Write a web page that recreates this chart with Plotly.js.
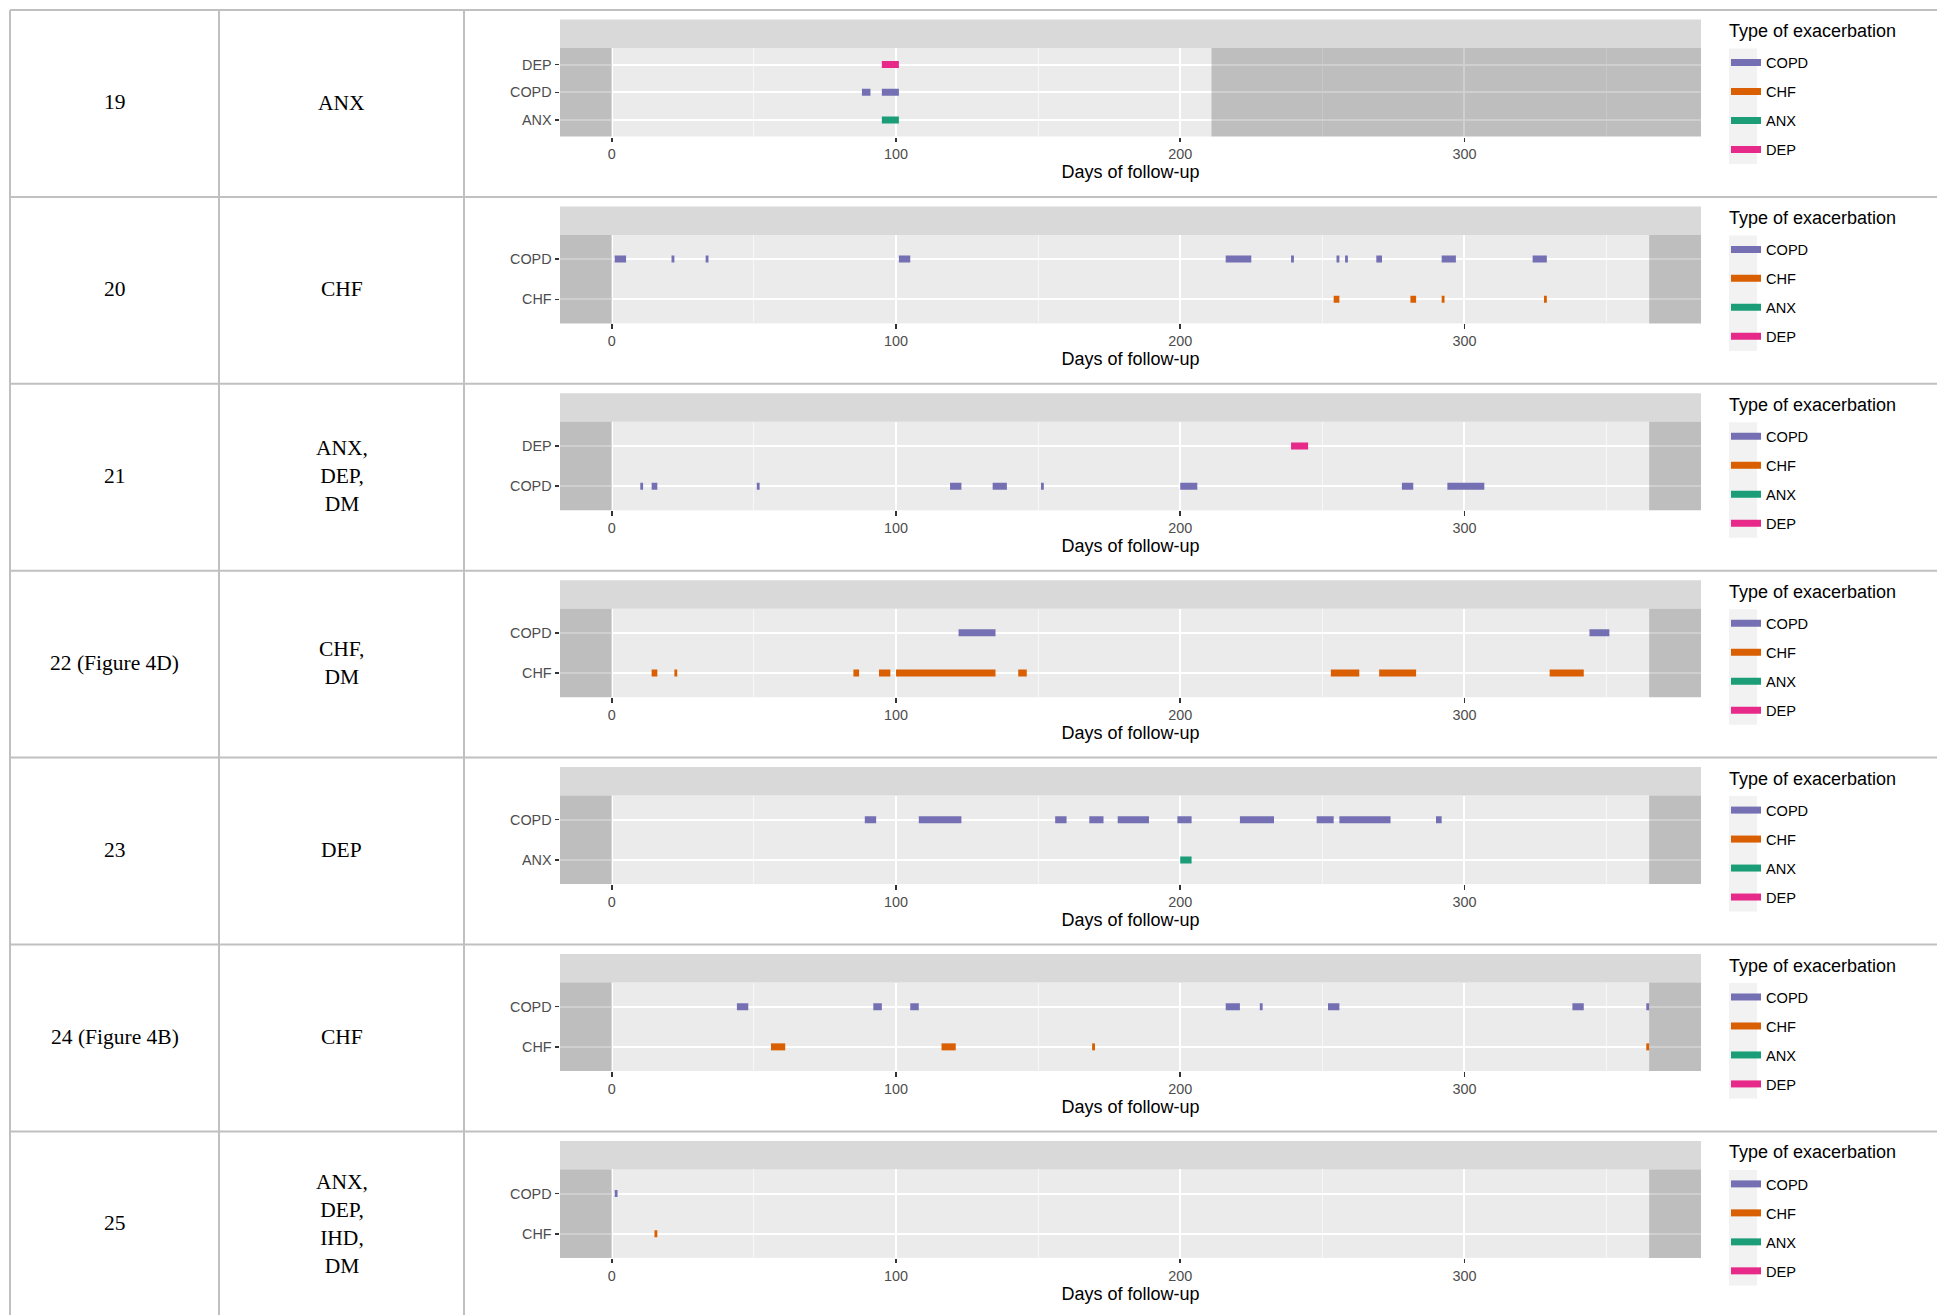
<!DOCTYPE html>
<html><head><meta charset="utf-8">
<script src="https://cdn.plot.ly/plotly-3.0.1.min.js"></script>
<style>html,body{margin:0;padding:0;background:#fff;} #chart{width:1937px;height:1315px;}</style>
</head><body><div id="chart"></div>
<script>
// ---------------- data ----------------
const patientIds = ['19', '20', '21', '22 (Figure 4D)', '23', '24 (Figure 4B)', '25'];
const comorbidities = ['ANX', 'CHF', 'ANX,<br>DEP,<br>DM', 'CHF,<br>DM', 'DEP', 'CHF', 'ANX,<br>DEP,<br>IHD,<br>DM'];
const followUpDays = [211, 365, 365, 365, 365, 365, 365];
const exacerbationTypes = ['COPD', 'CHF', 'ANX', 'DEP'];
// y categories, bottom to top
const yCategories = [['ANX', 'COPD', 'DEP'], ['CHF', 'COPD'], ['COPD', 'DEP'], ['CHF', 'COPD'], ['ANX', 'COPD'], ['CHF', 'COPD'], ['CHF', 'COPD']];
const xTickVals = [0, 100, 200, 300];
const xAxisTitle = 'Days of follow-up';
const legendTitle = 'Type of exacerbation';

// episodes: [start day, end day]
const p19_COPD = [[88, 91], [95, 101]];
const p19_ANX = [[95, 101]];
const p19_DEP = [[95, 101]];

const p20_COPD = [[1, 5], [21, 22], [33, 34], [101, 105], [216, 225], [239, 240], [255, 256], [258, 259], [269, 271], [292, 297], [324, 329]];
const p20_CHF = [[254, 256], [281, 283], [292, 293], [328, 329]];

const p21_COPD = [[10, 11], [14, 16], [51, 52], [119, 123], [134, 139], [151, 152], [200, 206], [278, 282], [294, 307]];
const p21_DEP = [[239, 245]];

const p22_COPD = [[122, 135], [344, 351]];
const p22_CHF = [[14, 16], [22, 23], [85, 87], [94, 98], [100, 135], [143, 146], [253, 263], [270, 283], [330, 342]];

const p23_COPD = [[89, 93], [108, 123], [156, 160], [168, 173], [178, 189], [199, 204], [221, 233], [248, 254], [256, 274], [290, 292]];
const p23_ANX = [[200, 204]];

const p24_COPD = [[44, 48], [92, 95], [105, 108], [216, 221], [228, 229], [252, 256], [338, 342], [364, 365]];
const p24_CHF = [[56, 61], [116, 121], [169, 170], [364, 365]];

const p25_COPD = [[1, 2]];
const p25_CHF = [[15, 16]];

const episodes = [
  {COPD: p19_COPD, ANX: p19_ANX, DEP: p19_DEP},
  {COPD: p20_COPD, CHF: p20_CHF},
  {COPD: p21_COPD, DEP: p21_DEP},
  {COPD: p22_COPD, CHF: p22_CHF},
  {COPD: p23_COPD, ANX: p23_ANX},
  {COPD: p24_COPD, CHF: p24_CHF},
  {COPD: p25_COPD, CHF: p25_CHF}
];

// ---------------- layout helpers ----------------
const W = 1937, H = 1315;
const tableTop = 10, rowPitch = 186.9;
const colLines = [10, 219, 464];
const panelLeft = 560, panelRight = 1701;
const fx = px => px / W;
const fy = px => 1 - px / H;
const typeColors = {COPD: '#7570B3', CHF: '#D95F02', ANX: '#1B9E77', DEP: '#E7298A'};
const maxDay = 365;
const xRange = [-0.05 * maxDay, 1.05 * maxDay];
const sans = 'Liberation Sans, Arial, sans-serif';
const serif = 'Liberation Serif, Times New Roman, serif';
const tableLine = '#C0C0C0';

const traces = [];
const layout = {
  width: W, height: H,
  margin: {l: 0, r: 0, t: 0, b: 0},
  paper_bgcolor: '#FFFFFF',
  plot_bgcolor: '#EBEBEB',
  showlegend: true,
  hovermode: false,
  font: {family: sans, color: '#000'},
  shapes: [],
  annotations: []
};

patientIds.forEach((pid, i) => {
  const n = i + 1;
  const sfx = n === 1 ? '' : String(n);
  const rowTop = tableTop + rowPitch * i;
  const cats = yCategories[i];
  const legName = 'legend' + sfx;

  layout['xaxis' + sfx] = {
    domain: [fx(panelLeft), fx(panelRight)],
    anchor: 'y' + sfx,
    range: xRange,
    tickmode: 'array', tickvals: xTickVals,
    ticks: 'outside', ticklen: 4.5, tickwidth: 1.5, tickcolor: '#333333',
    tickfont: {family: sans, size: 14.4, color: '#4D4D4D'},
    showgrid: true, gridcolor: '#FFFFFF', gridwidth: 2,
    minor: {dtick: 50, tick0: 0, showgrid: true, gridcolor: '#F7F7F7', gridwidth: 1, ticks: ''},
    zeroline: false, showline: false, fixedrange: true,
    title: {text: xAxisTitle, font: {family: sans, size: 18, color: '#000'}, standoff: 4}
  };
  layout['yaxis' + sfx] = {
    domain: [fy(rowTop + 126.5), fy(rowTop + 38)],
    anchor: 'x' + sfx,
    type: 'category', categoryorder: 'array', categoryarray: cats,
    range: [-0.6, cats.length - 0.4],
    ticks: 'outside', ticklen: 4.5, tickwidth: 1.5, tickcolor: '#333333',
    tickfont: {family: sans, size: 14.4, color: '#4D4D4D'},
    showgrid: true, gridcolor: '#FFFFFF', gridwidth: 2,
    zeroline: false, showline: false, fixedrange: true
  };

  exacerbationTypes.forEach(t => {
    const eps = episodes[i][t] || [];
    const xs = [], ys = [];
    eps.forEach(([s, e]) => { xs.push(s, e, null); ys.push(t, t, null); });
    if (!xs.length) { xs.push(null); ys.push(null); } // legend-only entry
    traces.push({
      type: 'scatter', mode: 'lines', x: xs, y: ys,
      xaxis: 'x' + sfx, yaxis: 'y' + sfx,
      name: t, legend: legName, legendgroup: 'r' + n + t,
      line: {color: typeColors[t], width: 7},
      hoverinfo: 'skip', showlegend: true
    });
  });

  layout[legName] = {
    x: fx(1726), xanchor: 'left',
    y: fy(rowTop + 36.5), yanchor: 'top',
    font: {family: sans, size: 14.6, color: '#000'},
    bgcolor: 'rgba(0,0,0,0)', borderwidth: 0,
    traceorder: 'grouped', tracegroupgap: 7
  };
  // legend title
  layout.annotations.push({xref: 'paper', yref: 'paper', x: fx(1726.5), y: fy(rowTop + 21),
    text: legendTitle, showarrow: false, xanchor: 'left', yanchor: 'middle',
    font: {family: sans, size: 18, color: '#000'}});

  // facet strip
  layout.shapes.push({type: 'rect', xref: 'x' + sfx + ' domain', x0: 0, x1: 1, yref: 'paper',
    y0: fy(rowTop + 38), y1: fy(rowTop + 9.5), fillcolor: '#D9D9D9', line: {width: 0}, layer: 'below'});
  // outside follow-up shading
  layout.shapes.push({type: 'rect', xref: 'x' + sfx, x0: xRange[0], x1: 0, yref: 'y' + sfx + ' domain', y0: 0, y1: 1,
    fillcolor: 'rgba(0,0,0,0.19)', line: {width: 0}, layer: 'above'});
  layout.shapes.push({type: 'rect', xref: 'x' + sfx, x0: followUpDays[i], x1: xRange[1], yref: 'y' + sfx + ' domain', y0: 0, y1: 1,
    fillcolor: 'rgba(0,0,0,0.19)', line: {width: 0}, layer: 'above'});
  // legend key background
  layout.shapes.push({type: 'rect', xref: 'paper', yref: 'paper', x0: fx(1729), x1: fx(1757),
    y0: fy(rowTop + 154), y1: fy(rowTop + 38.5), fillcolor: '#F2F2F2', line: {width: 0}, layer: 'below'});
  // table row line
  layout.shapes.push({type: 'line', xref: 'paper', yref: 'paper', x0: fx(colLines[0]), x1: 1,
    y0: fy(rowTop), y1: fy(rowTop), line: {color: tableLine, width: 2}, layer: 'below'});

  // table text
  layout.annotations.push({xref: 'paper', yref: 'paper', x: fx((colLines[0] + colLines[1]) / 2), y: fy(rowTop + 92),
    text: pid, showarrow: false, xanchor: 'center', yanchor: 'middle', font: {family: serif, size: 21.5, color: '#000'}});
  layout.annotations.push({xref: 'paper', yref: 'paper', x: fx((colLines[1] + colLines[2]) / 2), y: fy(rowTop + 92.5),
    text: comorbidities[i], showarrow: false, xanchor: 'center', yanchor: 'middle', align: 'center',
    font: {family: serif, size: 21.5, color: '#000'}});
});

colLines.forEach(cx => {
  layout.shapes.push({type: 'line', xref: 'paper', yref: 'paper', x0: fx(cx), x1: fx(cx),
    y0: fy(tableTop), y1: 0, line: {color: tableLine, width: 2}, layer: 'below'});
});

Plotly.newPlot('chart', traces, layout, {staticPlot: true, displayModeBar: false});
</script>
</body></html>
